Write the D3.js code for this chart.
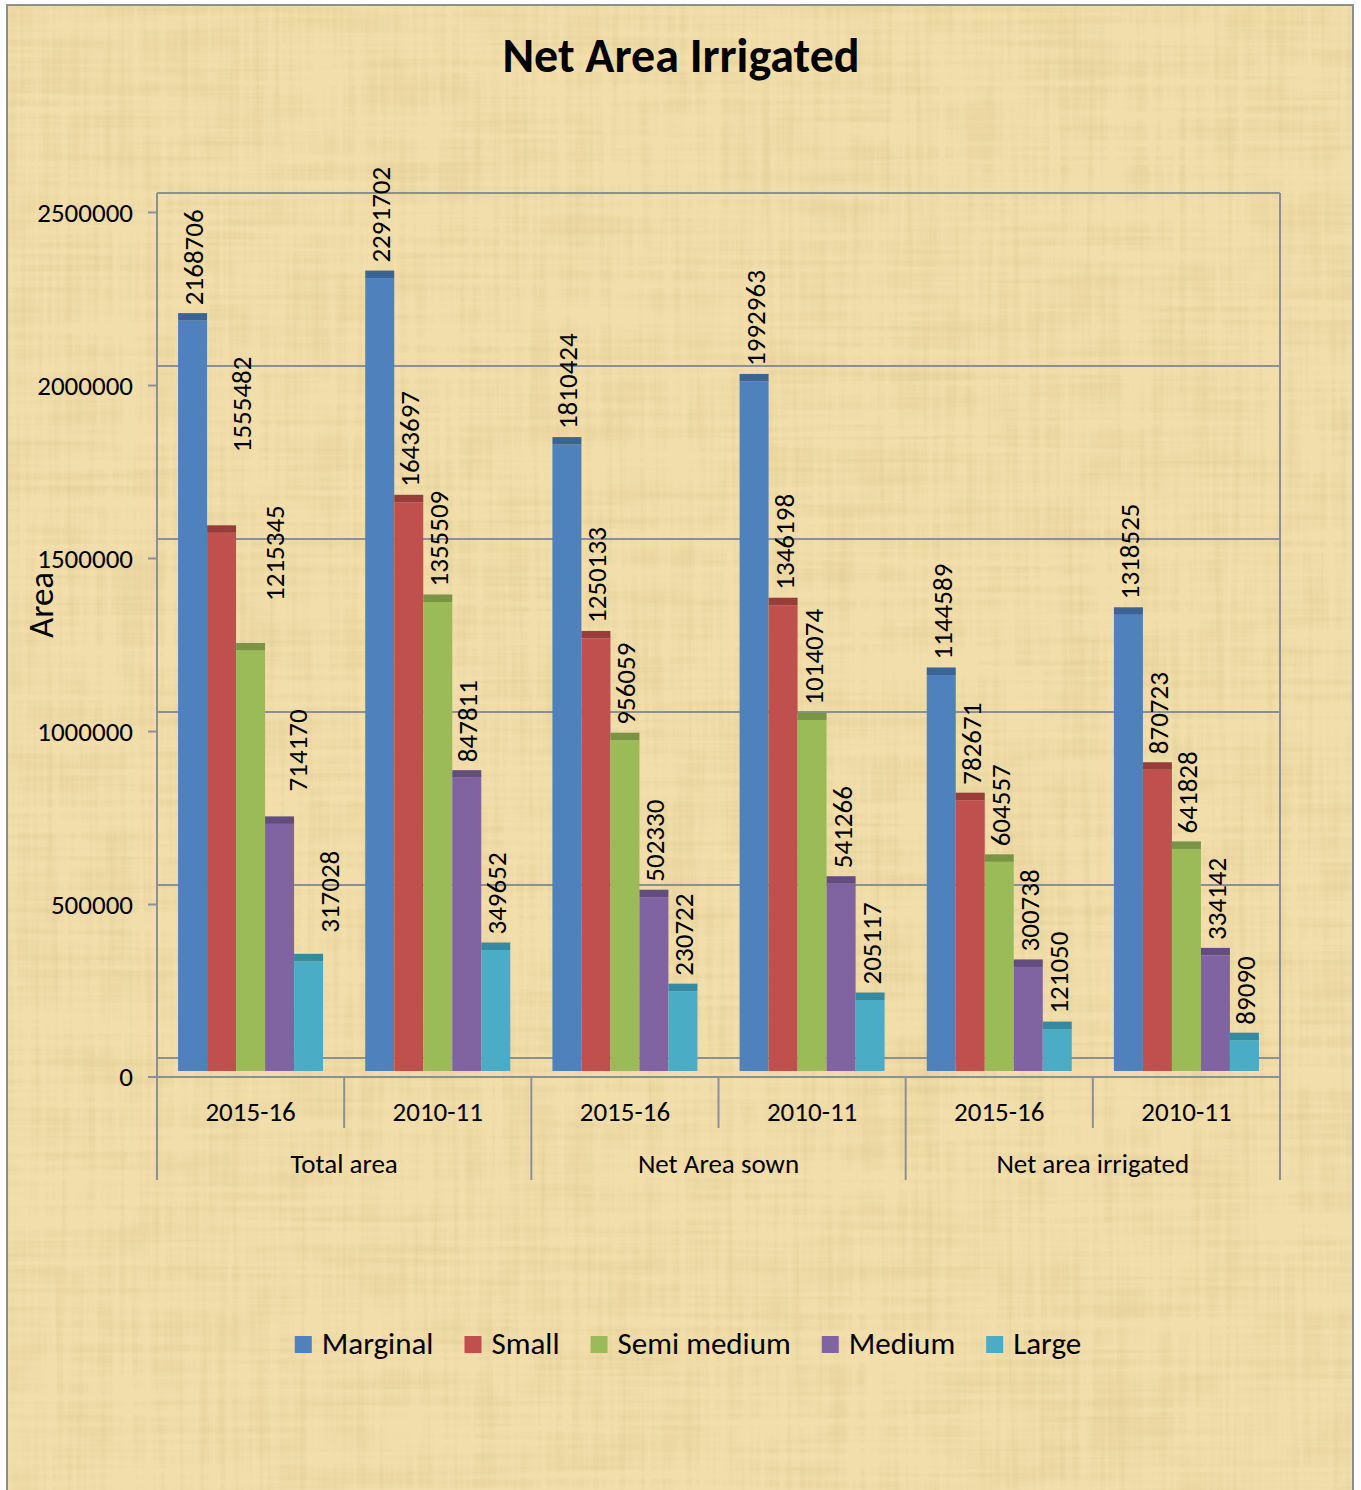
<!DOCTYPE html>
<html>
<head>
<meta charset="utf-8">
<script src="https://d3js.org/d3.v7.min.js"></script>
<style>
  html, body { margin: 0; padding: 0; background: #ffffff; }
  svg { display: block; }
  text { font-family: Carlito, Lato, "Open Sans", sans-serif; fill: #000; }
</style>
</head>
<body>
<svg id="chart" width="1361" height="1490"></svg>
<script>
// ---------------- DATA ----------------
const title = "Net Area Irrigated";
const yAxisTitle = "Area";
const groups = ["Total area", "Net Area sown", "Net area irrigated"];
const years = ["2015-16", "2010-11"];
const seriesNames = ["Marginal", "Small", "Semi medium", "Medium", "Large"];
// values per category (group x year), order: Marginal, Small, Semi medium, Medium, Large
const totalArea2015 = [2168706, 1555482, 1215345, 714170, 317028];
const totalArea2010 = [2291702, 1643697, 1355509, 847811, 349652];
const netSown2015 = [1810424, 1250133, 956059, 502330, 230722];
const netSown2010 = [1992963, 1346198, 1014074, 541266, 205117];
const netIrrig2015 = [1144589, 782671, 604557, 300738, 121050];
const netIrrig2010 = [1318525, 870723, 641828, 334142, 89090];
const yTicks = [0, 500000, 1000000, 1500000, 2000000, 2500000];

// ---------------- STYLE ----------------
const colors = ["#4F81BD", "#C0504D", "#9BBB59", "#8064A2", "#4BACC6"];
const capColors = ["#3B6496", "#983D3A", "#7A9446", "#634D80", "#368A9F"];
const lineColor = "#8b9098";
const fs = { title: 48, tick: 27, label: 27, cat: 27, legend: 31, axisTitle: 35 };
// manually moved data labels in the first category (as in the original)
const labelNudge = { "0-1": [19, -65], "0-2": [23, -34], "0-3": [17, -17], "0-4": [20, -13] };

const rows = [totalArea2015, totalArea2010, netSown2015, netSown2010, netIrrig2015, netIrrig2010];
const categories = [];
groups.forEach((g, gi) => years.forEach((yr, yi) => categories.push({ group: g, year: yr, idx: gi * 2 + yi })));

const svg = d3.select("#chart");

// ---------------- BACKGROUND ----------------
const defs = svg.append("defs");
const f = defs.append("filter").attr("id", "papyrus").attr("x", 0).attr("y", 0).attr("width", 1).attr("height", 1);
f.append("feTurbulence").attr("type", "fractalNoise").attr("baseFrequency", "0.004 0.15").attr("numOctaves", 3).attr("seed", 3).attr("result", "n1");
f.append("feTurbulence").attr("type", "fractalNoise").attr("baseFrequency", "0.15 0.004").attr("numOctaves", 3).attr("seed", 7).attr("result", "n2");
f.append("feTurbulence").attr("type", "fractalNoise").attr("baseFrequency", "0.02 0.02").attr("numOctaves", 2).attr("seed", 11).attr("result", "n3");
f.append("feComposite").attr("in", "n1").attr("in2", "n2").attr("operator", "arithmetic").attr("k1", 0).attr("k2", 0.5).attr("k3", 0.5).attr("k4", 0).attr("result", "n12");
f.append("feComposite").attr("in", "n12").attr("in2", "n3").attr("operator", "arithmetic").attr("k1", 0).attr("k2", 0.75).attr("k3", 0.25).attr("k4", 0).attr("result", "nAll");
f.append("feColorMatrix").attr("in", "nAll").attr("type", "matrix")
  .attr("values", "0 0 0 0 0.66  0 0 0 0 0.52  0 0 0 0 0.25  1.3 0 0 0 -0.55").attr("result", "dark");
f.append("feComposite").attr("in", "dark").attr("in2", "SourceGraphic").attr("operator", "over");

svg.append("rect").attr("x", 7).attr("y", 5).attr("width", 1346).attr("height", 1500)
  .attr("fill", "#F2DEAA").attr("filter", "url(#papyrus)");
svg.append("rect").attr("x", 7).attr("y", 5).attr("width", 1346).attr("height", 1500)
  .attr("fill", "none").attr("stroke", "#8e8e8e").attr("stroke-width", 2);

// ---------------- SCALES ----------------
const plotLeft = 157, plotRight = 1280;
const y = d3.scaleLinear().domain([0, 2500000]).range([1077, 212]);
const wallOff = -19, barFrontOff = -6, barBackOff = -13.5;

const x0 = d3.scaleBand().domain(categories.map(c => c.idx)).range([plotLeft, plotRight]).padding(0);
const x1 = d3.scaleBand().domain(seriesNames).range([0, x0.bandwidth()]).paddingInner(0).paddingOuter(0.727);

// ---------------- WALL & FLOOR ----------------
const grid = svg.append("g");
grid.selectAll("line.grid").data(yTicks).join("line")
  .attr("x1", plotLeft).attr("x2", plotRight)
  .attr("y1", d => y(d) + wallOff).attr("y2", d => y(d) + wallOff)
  .attr("stroke", lineColor).attr("stroke-width", 2);
grid.append("line").attr("x1", plotLeft).attr("x2", plotLeft).attr("y1", y(2500000) + wallOff).attr("y2", y(0))
  .attr("stroke", lineColor).attr("stroke-width", 2);
grid.append("line").attr("x1", plotRight).attr("x2", plotRight).attr("y1", y(2500000) + wallOff).attr("y2", y(0))
  .attr("stroke", lineColor).attr("stroke-width", 2);
grid.append("line").attr("x1", plotLeft - 9).attr("x2", plotRight).attr("y1", y(0)).attr("y2", y(0))
  .attr("stroke", lineColor).attr("stroke-width", 2);

// ---------------- Y AXIS ----------------
const yAxis = d3.axisLeft(y).tickValues(yTicks.slice(1)).tickSize(9).tickPadding(15).tickFormat(d3.format("d"));
const gy = svg.append("g").attr("transform", `translate(${plotLeft},0)`).call(yAxis);
gy.select(".domain").remove();
gy.attr("font-family", null);
gy.selectAll(".tick line").attr("stroke", lineColor).attr("stroke-width", 2);
gy.selectAll(".tick text").style("font-size", fs.tick + "px").attr("dy", "0.35em").attr("fill", "#000");
svg.append("text").attr("x", plotLeft - 24).attr("y", y(0)).attr("dy", "0.35em").attr("text-anchor", "end")
  .style("font-size", fs.tick + "px").text("0");

svg.append("text").attr("transform", `translate(53,605) rotate(-90)`).attr("text-anchor", "middle")
  .style("font-size", fs.axisTitle + "px").text(yAxisTitle);

// ---------------- BARS ----------------
const barData = [];
categories.forEach(c => seriesNames.forEach((s, si) => barData.push({ c: c.idx, s, si, v: rows[c.idx][si] })));

const bars = svg.append("g");
bars.selectAll("rect.front").data(barData).join("rect")
  .attr("x", d => x0(d.c) + x1(d.s)).attr("width", x1.bandwidth())
  .attr("y", d => y(d.v) + barFrontOff).attr("height", d => y(0) - y(d.v))
  .attr("fill", d => colors[d.si]);
bars.selectAll("rect.cap").data(barData).join("rect")
  .attr("x", d => x0(d.c) + x1(d.s)).attr("width", x1.bandwidth())
  .attr("y", d => y(d.v) + barBackOff).attr("height", barFrontOff - barBackOff)
  .attr("fill", d => capColors[d.si]);

svg.append("g").selectAll("text").data(barData).join("text")
  .attr("transform", d => {
    const n = labelNudge[d.c + "-" + d.si] || [0, 0];
    const cx = x0(d.c) + x1(d.s) + x1.bandwidth() / 2 + 1 + n[0];
    const cy = y(d.v) + barBackOff - 8 + n[1];
    return `translate(${cx},${cy}) rotate(-90)`;
  })
  .attr("dy", "0.35em").attr("text-anchor", "start")
  .style("font-size", fs.label + "px").text(d => d.v);

// ---------------- CATEGORY AXIS ----------------
const cat = svg.append("g");
cat.selectAll("line.yr").data(groups).join("line")
  .attr("x1", (g, i) => x0(i * 2 + 1)).attr("x2", (g, i) => x0(i * 2 + 1))
  .attr("y1", y(0)).attr("y2", 1128).attr("stroke", lineColor).attr("stroke-width", 2);
const groupEdges = groups.map((g, i) => x0(i * 2)).concat([plotRight]);
cat.selectAll("line.gr").data(groupEdges).join("line")
  .attr("x1", d => d).attr("x2", d => d).attr("y1", y(0)).attr("y2", 1180)
  .attr("stroke", lineColor).attr("stroke-width", 2);
cat.selectAll("text.yr").data(categories).join("text")
  .attr("x", d => x0(d.idx) + x0.bandwidth() / 2).attr("y", 1121)
  .attr("text-anchor", "middle").style("font-size", fs.cat + "px").text(d => d.year);
cat.selectAll("text.gr").data(groups).join("text")
  .attr("x", (g, i) => x0(i * 2 + 1)).attr("y", 1173)
  .attr("text-anchor", "middle").style("font-size", fs.cat + "px").text(d => d);

// ---------------- TITLE ----------------
svg.append("text").attr("x", 681).attr("y", 72).attr("text-anchor", "middle")
  .style("font-size", fs.title + "px").style("font-weight", "bold").text(title);

// ---------------- LEGEND ----------------
const leg = svg.append("g");
const items = leg.selectAll("g").data(seriesNames).join("g");
items.append("rect").attr("width", 17).attr("height", 17).attr("y", -18).attr("fill", (d, i) => colors[i]);
items.append("text").attr("x", 27).attr("y", 0).style("font-size", fs.legend + "px").text(d => d);
const widths = [];
items.each(function () { widths.push(27 + d3.select(this).select("text").node().getComputedTextLength()); });
const gap = 31;
const total = d3.sum(widths) + gap * (widths.length - 1);
let start = 688 - total / 2;
items.attr("transform", (d, i) => {
  const tx = start; start += widths[i] + gap;
  return `translate(${tx},1354)`;
});
</script>
</body>
</html>
